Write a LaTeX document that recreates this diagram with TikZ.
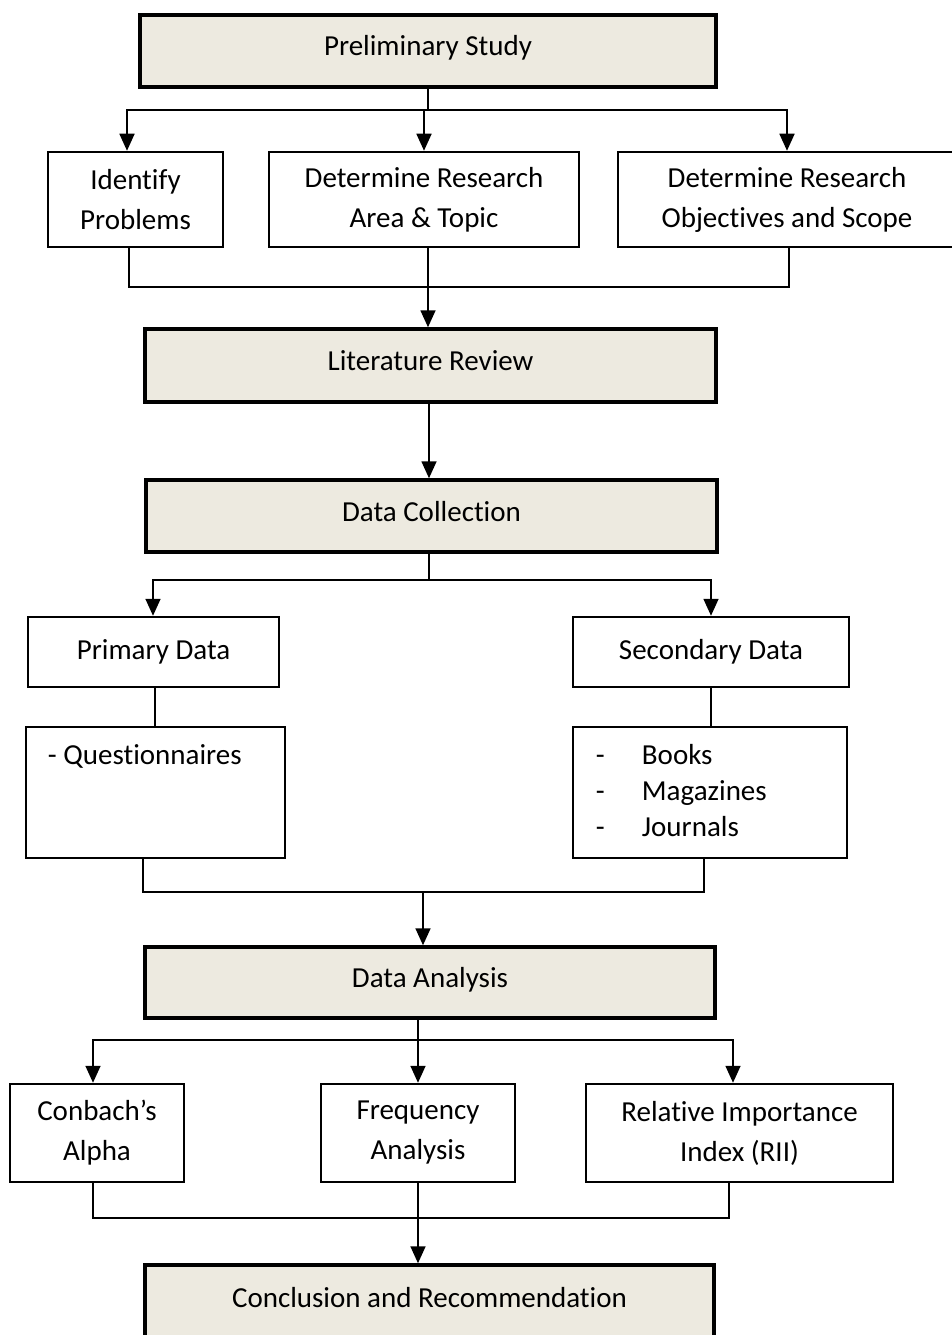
\documentclass[tikz,border=0pt]{standalone}
\usepackage{fontspec}
\setmainfont[Ligatures={NoCommon,NoContextual},RawFeature={-liga;-clig;-calt;-dlig}]{Carlito}
\usetikzlibrary{arrows.meta}
\definecolor{boxfill}{RGB}{237,234,224}

\begin{document}
\begin{tikzpicture}[x=1pt,y=-1pt,
  font=\fontsize{29pt}{40pt}\selectfont,
  mainbox/.style={draw, line width=3.5pt, fill=boxfill, minimum width=571pt,
    minimum height=72pt, text height=20pt, text depth=10pt},
  subbox/.style={draw, line width=2.5pt, fill=white, align=center, inner sep=0pt},
  listtext/.style={anchor=base west, inner sep=0pt, font=\fontsize{29pt}{36pt}\selectfont},
  link/.style={line width=1.7pt},
  arrow/.style={link, -{Triangle[width=15pt,length=17pt]}}]

  \useasboundingbox (0,0) rectangle (952,1335);

  \coordinate (busA) at (0,110);
  \coordinate (busB) at (0,287);
  \coordinate (busC) at (0,580);
  \coordinate (busD) at (0,892);
  \coordinate (busE) at (0,1040);
  \coordinate (busF) at (0,1218);

  % main stages
  \node [mainbox, minimum width=576pt] (prelim) at (428,51) {Preliminary Study};
  \node [mainbox, minimum height=73pt] (litrev) at (430.5,365.5) {Literature Review};
  \node [mainbox] (datacol) at (431.5,516) {Data Collection};
  \node [mainbox, minimum width=570pt, minimum height=71pt] (analysis) at (430,982.5) {Data Analysis};
  \node [mainbox, minimum width=569pt, minimum height=74pt] (concl) at (429.5,1302) {Conclusion and Recommendation};

  % preliminary study
  \node [subbox, minimum width=175pt, minimum height=95pt] (ident) at (135.5,199.5) {Identify\\Problems};
  \node [subbox, minimum width=310pt, minimum height=95pt] (area) at (424,199.5) {Determine Research\\Area \& Topic};
  \node [subbox, minimum width=338pt, minimum height=95pt] (objs) at (787,199.5) {Determine Research\\Objectives and Scope};

  % data collection
  \node [subbox, minimum width=251pt, minimum height=70pt] (primary) at (153.5,652) {Primary Data};
  \node [subbox, minimum width=276pt, minimum height=70pt] (secondary) at (711,652) {Secondary Data};
  \node [subbox, minimum width=259pt, minimum height=131pt] (quest) at (155.5,792.5) {};
  \node [subbox, minimum width=274pt, minimum height=131pt] (seclist) at (710,792.5) {};
  \node [listtext] (questtxt) at ([shift={(23,39)}]quest.north west) {- Questionnaires};
  \node [listtext] (sectxt) at ([shift={(24,39)}]seclist.north west)
    {\begin{tabular}[t]{@{}p{46pt}@{}l@{}}
      - & Books\\
      - & Magazines\\
      - & Journals
    \end{tabular}};

  % data analysis
  \node [subbox, minimum width=174pt, minimum height=98pt] (alpha) at (97,1133) {Conbach’s\\Alpha};
  \node [subbox, minimum width=194pt, minimum height=98pt] (freq) at (418,1133) {Frequency\\Analysis};
  \node [subbox, minimum width=307pt, minimum height=98pt] (rii) at (739.5,1133) {Relative Importance\\Index (RII)};

  % connectors
  \draw [link] (prelim.south) -- (prelim.south |- busA);
  \draw [arrow] (prelim.south |- busA) -| ([xshift=-8.5pt]ident.north);
  \draw [arrow] (prelim.south |- busA) -| (objs.north);
  \draw [arrow] (area.north |- busA) -- (area.north);

  \draw [link] ([xshift=-6.5pt]ident.south) |- ([xshift=2pt]objs.south |- busB) -- ([xshift=2pt]objs.south);
  \draw [arrow] ([xshift=4pt]area.south) -- ([xshift=4pt]area.south |- litrev.north);

  \draw [arrow] ([xshift=-1.5pt]litrev.south) -- ([xshift=-1.5pt]litrev.south |- datacol.north);

  \draw [link] ([xshift=-2.5pt]datacol.south) -- ([xshift=-2.5pt]datacol.south |- busC);
  \draw [arrow] ([xshift=-2.5pt]datacol.south |- busC) -| ([xshift=-0.5pt]primary.north);
  \draw [arrow] ([xshift=-2.5pt]datacol.south |- busC) -| (secondary.north);

  \draw [link] ([xshift=1.5pt]primary.south) -- ([xshift=1.5pt]primary.south |- quest.north);
  \draw [link] (secondary.south) -- (secondary.south |- seclist.north);

  \draw [link] ([xshift=-12.5pt]quest.south) |- ([xshift=-6pt]seclist.south |- busD) -- ([xshift=-6pt]seclist.south);
  \draw [arrow] ([xshift=-7pt]analysis.north |- busD) -- ([xshift=-7pt]analysis.north);

  \draw [link] (freq.north |- analysis.south) -- (freq.north |- busE);
  \draw [arrow] (freq.north |- busE) -| ([xshift=-4pt]alpha.north);
  \draw [arrow] (freq.north |- busE) -| ([xshift=-6.5pt]rii.north);
  \draw [arrow] (freq.north |- busE) -- (freq.north);

  \draw [link] ([xshift=-4pt]alpha.south) |- ([xshift=-10.5pt]rii.south |- busF) -- ([xshift=-10.5pt]rii.south);
  \draw [arrow] (freq.south) -- (freq.south |- concl.north);
\end{tikzpicture}
\end{document}
